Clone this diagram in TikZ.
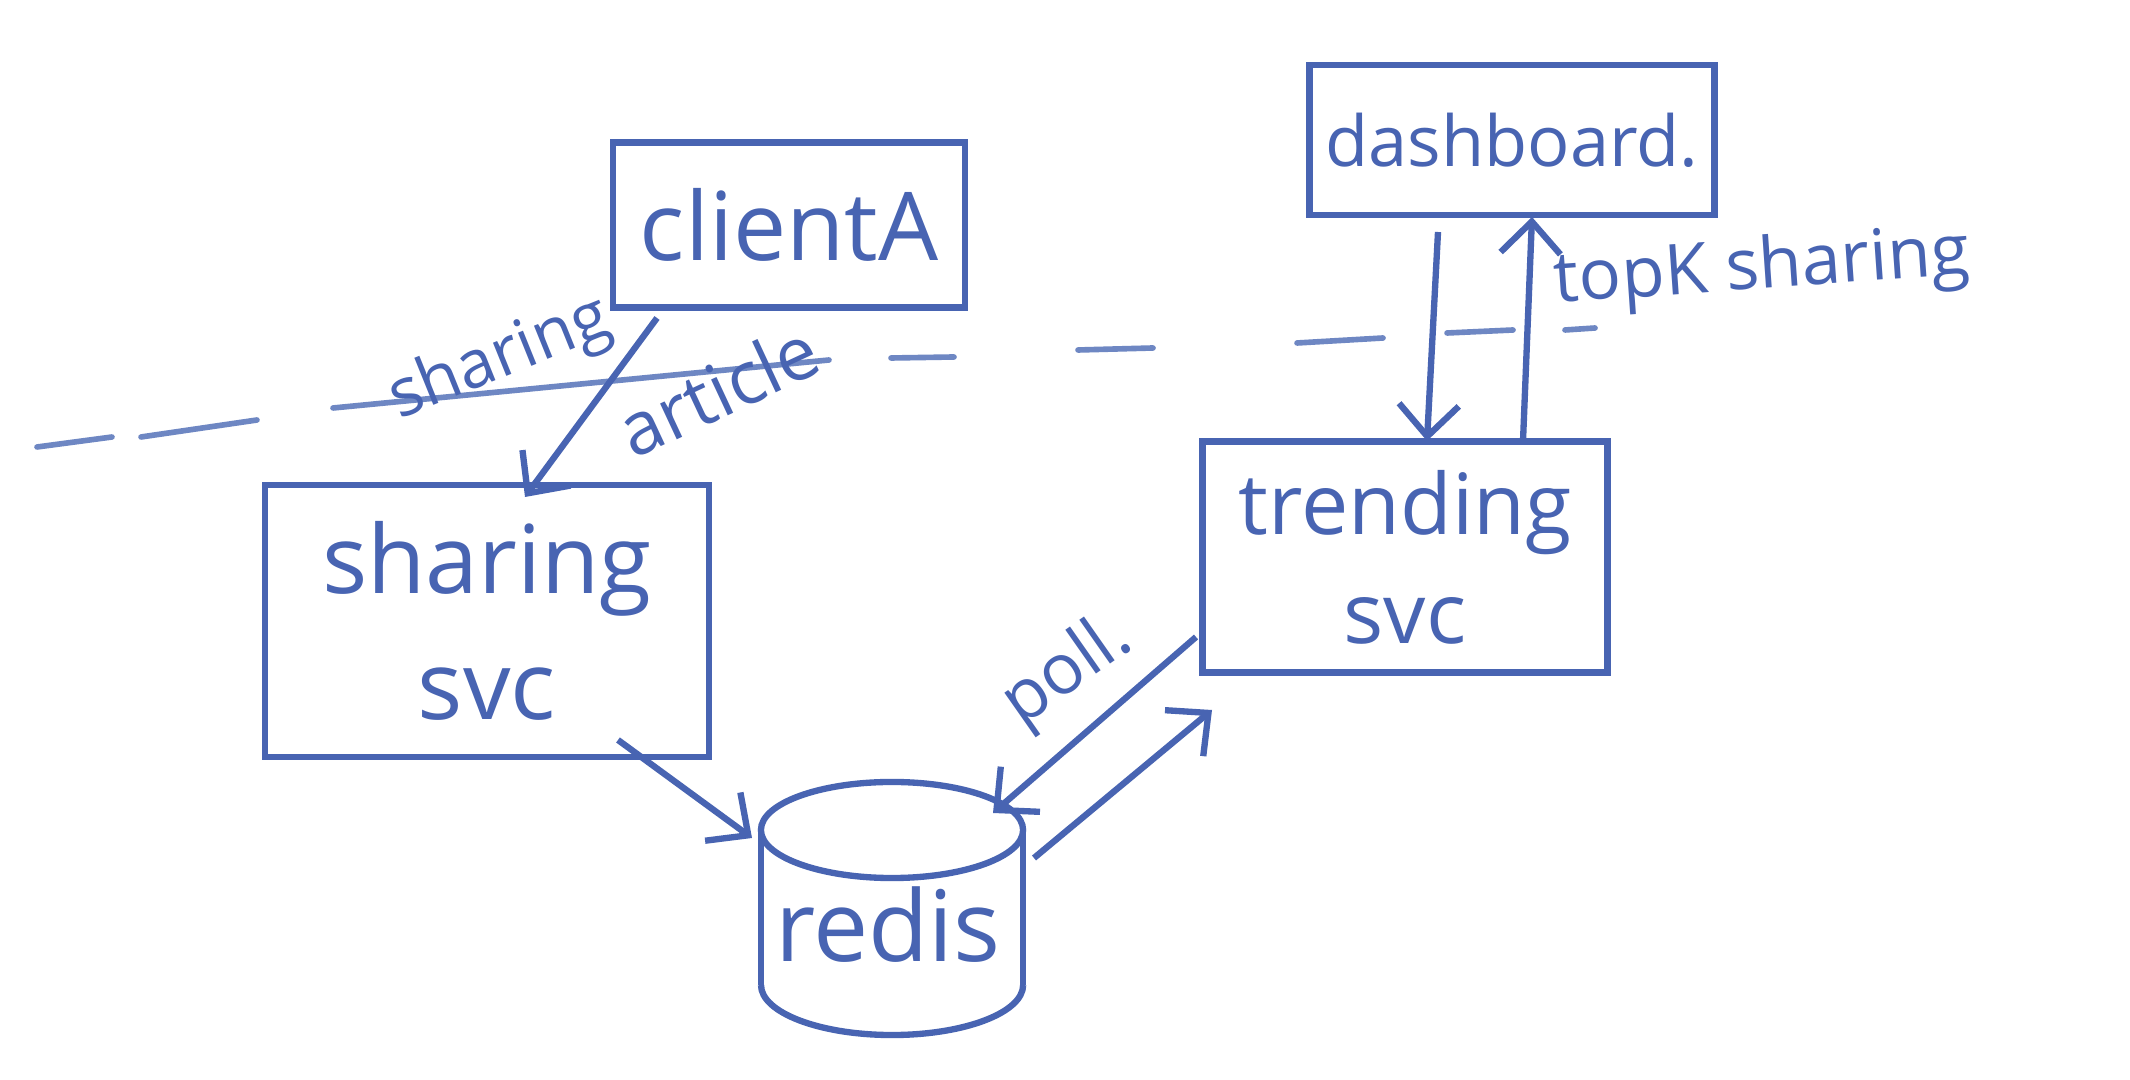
\documentclass[tikz,border=0pt]{standalone}
\usepackage{fontspec}
\setmainfont{Open Sans}
\usetikzlibrary{arrows.meta}
\definecolor{hand}{RGB}{72,100,178}
\definecolor{handlight}{RGB}{110,135,195}
\tikzset{
  box/.style={draw=hand, line width=1.8pt, inner sep=0pt, text=hand, align=center},
  lbl/.style={text=hand, inner sep=0pt},
  conn/.style={draw=hand, line width=1.8pt, -{Straight Barb[length=9pt,width=17pt,line width=1.8pt]}},
  dashseg/.style={draw=handlight, line width=1.6pt, line cap=round},
  cyl/.style={draw=hand, line width=1.8pt}
}
\begin{document}
\begin{tikzpicture}[x=0.01cm,y=-0.01cm]
\fill[white] (0,0) rectangle (2130,1080);
\useasboundingbox (0,0) rectangle (2130,1080);

% dashed boundary line
\draw[dashseg] (37,447) -- (112,437);
\draw[dashseg] (141,437) -- (257,420);
\draw[dashseg] (333,408) -- (829,360);
\draw[dashseg] (891,358) -- (954,357);
\draw[dashseg] (1078,350) -- (1153,348);
\draw[dashseg] (1297,343) -- (1383,338);
\draw[dashseg] (1447,333) -- (1513,330);
\draw[dashseg] (1565,330) -- (1595,328);

% boxes
\node[box, minimum width=3.52cm, minimum height=1.65cm, font=\fontsize{27}{30}\selectfont] (client) at (789,225) {clientA};
\node[box, minimum width=4.05cm, minimum height=1.50cm, font=\fontsize{20}{24}\selectfont] (dash) at (1512,140) {dashboard.};
\node[box, minimum width=4.44cm, minimum height=2.72cm, font=\fontsize{27}{36}\selectfont] (sharing) at (487,621) {sharing\\svc};
\node[box, minimum width=4.05cm, minimum height=2.31cm, font=\fontsize{24}{31}\selectfont] (trending) at (1405,557) {trending\\svc};

% redis cylinder
\draw[cyl] (892,830) ellipse [x radius=1.31cm, y radius=0.48cm];
\draw[cyl] (761,830) -- (761,985);
\draw[cyl] (1023,830) -- (1023,985);
\draw[cyl] (761,985) arc[start angle=180, end angle=360, x radius=1.31cm, y radius=0.5cm];
\node[lbl, font=\fontsize{28}{32}\selectfont] (redis) at (888,925) {redis};

% connector end points
\coordinate (cA) at (657,318);
\coordinate (sT) at (525,497);
\coordinate (dB) at (1438,232);
\coordinate (tT) at (1427,441);
\coordinate (tT2) at (1523,441);
\coordinate (dB2) at (1532,217);
\coordinate (sB) at (618,740);
\coordinate (rL) at (752,838);
\coordinate (tL) at (1196,637);
\coordinate (rR) at (993,813);
\coordinate (rO) at (1034,858);
\coordinate (tL2) at (1212,710);

% connectors
\draw[conn] (cA) -- (sT);
\draw[conn] (dB) -- (tT);
\draw[conn] (tT2) -- (dB2);
\draw[conn] (sB) -- (rL);
\draw[conn] (tL) -- (rR);
\draw[conn] (rO) -- (tL2);

% labels
\node[lbl, rotate=22, font=\fontsize{19}{22}\selectfont] (lshare) at (500,360) {sharing};
\node[lbl, rotate=25, font=\fontsize{21}{24}\selectfont] (lart) at (718,390) {article};
\node[lbl, rotate=35, font=\fontsize{20}{24}\selectfont] (lpoll) at (1068,672) {poll.};
\node[lbl, rotate=4, font=\fontsize{20}{24}\selectfont] (ltop) at (1762,270) {topK sharing};
\end{tikzpicture}
\end{document}
